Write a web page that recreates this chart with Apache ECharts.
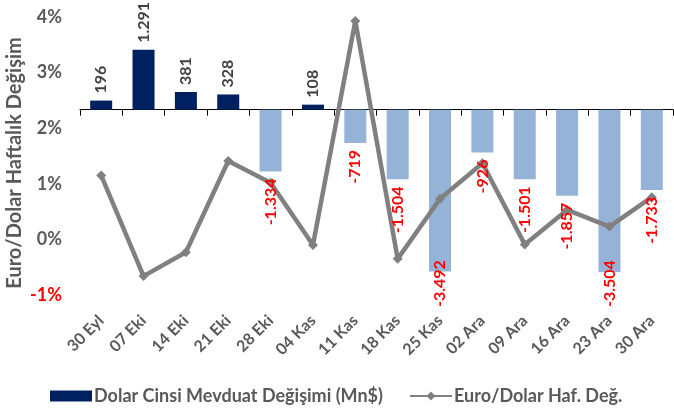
<!DOCTYPE html>
<html>
<head>
<meta charset="utf-8">
<script src="https://cdn.jsdelivr.net/npm/echarts@6/dist/echarts.min.js"></script>
<style>
  html, body { margin: 0; padding: 0; background: #fff; }
  #chart { width: 674px; height: 408px; }
</style>
</head>
<body>
<div id="chart"></div>
<script>
const categories = ['30 Eyl', '07 Eki', '14 Eki', '21 Eki', '28 Eki', '04 Kas', '11 Kas', '18 Kas', '25 Kas', '02 Ara', '09 Ara', '16 Ara', '23 Ara', '30 Ara'];
const depositChange = [196, 1291, 381, 328, -1334, 108, -719, -1504, -3492, -926, -1501, -1857, -3504, -1733];
const euroDollarChange = [1.15, -0.66, -0.23, 1.41, 1.02, -0.10, 3.93, -0.35, 0.73, 1.37, -0.09, 0.53, 0.23, 0.76];
const pctTicks = { min: -1, max: 4, interval: 1 };
const barName = 'Dolar Cinsi Mevduat Değişimi (Mn$)';
const lineName = 'Euro/Dolar Haf. Değ.';
const yTitle = 'Euro/Dolar Haftalık Değişim';

const FONT = 'Lato';
const GRAY = '#595959';
const POS = '#002060';
const NEG = '#95b3d7';
const LABEL_LIMIT = 307;
const LABEL_SIZE = 16;
const LABEL_DIST = 7;

function fmt(v) {
  const s = Math.abs(v).toString();
  const withDots = s.replace(/\B(?=(\d{3})+(?!\d))/g, '.');
  return (v < 0 ? '-' : '') + withDots;
}

const measureCtx = document.createElement('canvas').getContext('2d');
function textWidth(str) {
  measureCtx.font = 'bold ' + LABEL_SIZE + 'px ' + FONT;
  return measureCtx.measureText(str).width;
}

const barData = depositChange.map(v => ({
  value: v,
  itemStyle: { color: v >= 0 ? POS : NEG }
}));

// Transparent copy of the bars that only carries the value labels, drawn above the line.
function buildLabelData(shifts) {
  return depositChange.map((v, i) => ({
    value: v,
    label: v >= 0
      ? { position: 'top', align: 'left', color: '#404040' }
      : { position: 'bottom', align: 'right', color: '#ff0000', offset: [shifts ? shifts[i] : 0, 0] }
  }));
}

const chart = echarts.init(document.getElementById('chart'), null, { renderer: 'canvas' });
const option = {
  animation: false,
  backgroundColor: '#ffffff',
  textStyle: { fontFamily: FONT },
  grid: { left: 80, right: 1, top: 17, bottom: 113, containLabel: false },
  graphic: [
    {
      type: 'text',
      x: 15,
      y: 163,
      rotation: Math.PI / 2,
      style: {
        text: yTitle,
        fill: GRAY,
        font: 'bold 20px ' + FONT,
        align: 'center',
        verticalAlign: 'middle'
      }
    }
  ],
  legend: {
    left: 45,
    top: 382,
    itemGap: 26,
    itemWidth: 42,
    itemHeight: 11,
    textStyle: { fontFamily: FONT, fontWeight: 'bold', fontSize: 18, color: GRAY, padding: [0, 0, 0, -3] },
    data: [
      { name: barName, icon: 'rect' },
      { name: lineName }
    ]
  },
  xAxis: [
    {
      type: 'category',
      data: categories,
      boundaryGap: true,
      axisLine: { show: false, onZero: false },
      axisTick: { show: false },
      axisLabel: {
        rotate: 45,
        margin: 23,
        fontFamily: FONT,
        fontWeight: 'bold',
        fontSize: 16,
        color: GRAY,
        interval: 0
      },
      splitLine: { show: false }
    },
    {
      type: 'category',
      data: categories,
      boundaryGap: true,
      position: 'bottom',
      axisLine: { show: true, onZero: true, onZeroAxisIndex: 1, lineStyle: { color: '#000000', width: 1 } },
      axisTick: { show: true, length: 6, interval: 0, lineStyle: { color: '#000000' } },
      axisLabel: { show: false },
      splitLine: { show: false }
    }
  ],
  yAxis: [
    {
      type: 'value',
      min: pctTicks.min,
      max: pctTicks.max,
      interval: pctTicks.interval,
      axisLine: { show: false },
      axisTick: { show: false },
      splitLine: { show: false },
      axisLabel: {
        margin: 18,
        fontFamily: FONT,
        fontWeight: 'bold',
        fontSize: 18,
        formatter: v => v + '%',
        color: v => (v < 0 ? '#ff0000' : GRAY)
      }
    },
    {
      type: 'value',
      min: -4000,
      max: 2000,
      interval: 1000,
      show: false,
      splitLine: { show: false }
    }
  ],
  series: [
    {
      name: barName,
      type: 'bar',
      xAxisIndex: 1,
      yAxisIndex: 1,
      barWidth: 22,
      barGap: '-100%',
      itemStyle: { color: POS },
      data: barData,
      z: 2
    },
    {
      name: lineName,
      type: 'line',
      xAxisIndex: 0,
      yAxisIndex: 0,
      data: euroDollarChange,
      symbol: 'diamond',
      symbolSize: 10,
      lineStyle: { color: '#808080', width: 4.5 },
      itemStyle: { color: '#808080' },
      z: 3
    },
    {
      name: 'labels',
      type: 'bar',
      xAxisIndex: 1,
      yAxisIndex: 1,
      barWidth: 22,
      barGap: '-100%',
      silent: true,
      itemStyle: { color: 'rgba(0,0,0,0)' },
      label: {
        show: true,
        rotate: 90,
        verticalAlign: 'middle',
        distance: LABEL_DIST,
        fontFamily: FONT,
        fontWeight: 'bold',
        fontSize: LABEL_SIZE,
        formatter: p => fmt(p.value)
      },
      data: buildLabelData(null),
      z: 4
    }
  ]
};
chart.setOption(option);

// Keep long negative labels inside the chart area (as in the original), using the axis scale.
// The label is rotated 90°, so its local x direction points up on screen.
const shifts = depositChange.map(v => {
  if (v >= 0) return 0;
  const barBottom = chart.convertToPixel({ yAxisIndex: 1 }, v);
  const end = barBottom + LABEL_DIST + textWidth(fmt(v));
  return end > LABEL_LIMIT ? end - LABEL_LIMIT : 0;
});
chart.setOption({ series: [{}, {}, { data: buildLabelData(shifts) }] });
</script>
</body>
</html>
